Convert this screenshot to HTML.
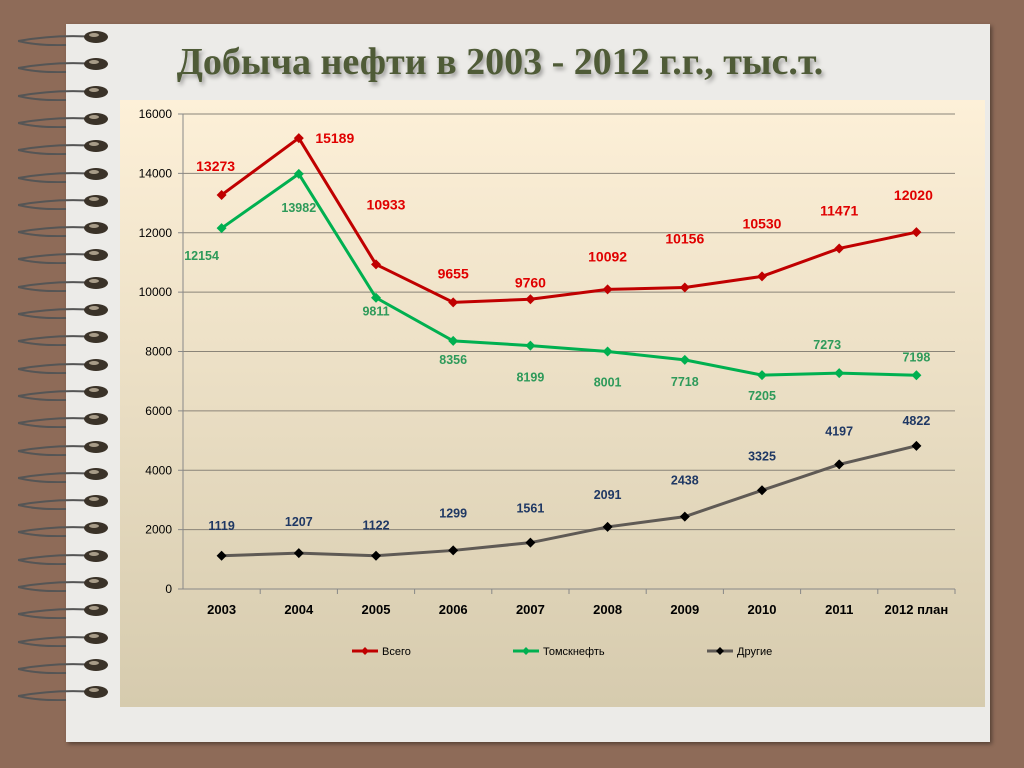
<!DOCTYPE html>
<html><head><meta charset="utf-8"><style>
body{margin:0;width:1024px;height:768px;background:#8e6b58;overflow:hidden;font-family:"Liberation Sans",sans-serif}
#paper{position:absolute;left:66px;top:24px;width:924px;height:718px;background:#ecebe8;box-shadow:2px 2px 4px rgba(0,0,0,.4)}
#title{position:absolute;left:0;top:40px;width:1000px;text-align:center;font-family:"Liberation Serif",serif;font-weight:bold;font-size:38px;color:#4f5b37;text-shadow:2px 3px 4px rgba(0,0,0,.35)}
#panel{position:absolute;left:120px;top:100px;width:865px;height:607px;background:linear-gradient(#fdf0d8,#d6cbae)}
.ring{position:absolute;left:18px;width:90px;height:18px}
</style></head><body>
<div id="paper"></div>
<div id="rings"></div>
<div id="title">Добыча нефти в 2003 - 2012 г.г., тыс.т.</div>
<div id="panel"></div>
<svg id="chart" width="1024" height="768" style="position:absolute;left:0;top:0"></svg>
<script>
const categories=["2003","2004","2005","2006","2007","2008","2009","2010","2011","2012 план"];
const totalValues=[13273,15189,10933,9655,9760,10092,10156,10530,11471,12020];
const tomskValues=[12154,13982,9811,8356,8199,8001,7718,7205,7273,7198];
const otherValues=[1119,1207,1122,1299,1561,2091,2438,3325,4197,4822];
const yTicks=[0,2000,4000,6000,8000,10000,12000,14000,16000];
const NS="http://www.w3.org/2000/svg";
const svg=document.getElementById('chart');
const rings=document.getElementById('rings');
for(let i=0;i<25;i++){const d=document.createElementNS(NS,'svg');d.setAttribute('class','ring');d.style.top=(28+i*27.3)+'px';

d.innerHTML='<path d="M78 9 Q40 6 0 13 Q20 18 48 17" fill="none" stroke="#555" stroke-width="2"/><ellipse cx="78" cy="9" rx="12" ry="6" fill="#3a3228"/><ellipse cx="76" cy="7" rx="5" ry="2" fill="#a89c88"/>';
rings.appendChild(d);}
const x0=183,x1=955,y0=589,y1=114;
const step=(x1-x0)/categories.length;
const xs=i=>x0+step*(i+0.5);
const ys=v=>y0-(v/16000)*(y0-y1);
function el(t,a,p){const e=document.createElementNS(NS,t);for(const k in a)e.setAttribute(k,a[k]);(p||svg).appendChild(e);return e;}
yTicks.forEach(v=>{
 if(v>0){const g=el('line',{x1:x0,x2:x1,y1:ys(v),y2:ys(v),stroke:'#8a8478','stroke-width':1});
 }
 const t=el('text',{x:x0-11,y:ys(v)+4,'text-anchor':'end','font-size':12,fill:'#000'});t.textContent=v;
 
 el('line',{x1:x0-5,x2:x0,y1:ys(v),y2:ys(v),stroke:'#888'});
});
el('line',{x1:x0,x2:x0,y1:y1,y2:y0,stroke:'#888'});
el('line',{x1:x0,x2:x1,y1:y0,y2:y0,stroke:'#888'});
categories.forEach((c,i)=>{
 el('line',{x1:x0+step*(i+1),x2:x0+step*(i+1),y1:y0,y2:y0+5,stroke:'#888'});
 const t=el('text',{x:xs(i),y:y0+25,'text-anchor':'middle','font-size':13,'font-weight':'bold'});t.textContent=c;
 
});
function series(vals,color,mk,lblColor,dy,fs,name){
 const p=el('polyline',{points:vals.map((v,i)=>xs(i)+','+ys(v)).join(' '),fill:'none',stroke:color,'stroke-width':3});
 
 vals.forEach((v,i)=>{const x=xs(i),y=ys(v);
  const m=el('path',{d:`M${x} ${y-5}L${x+5} ${y}L${x} ${y+5}L${x-5} ${y}Z`,fill:mk});
  
  const t=el('text',{x:x+dy[i][0],y:y+dy[i][1],'text-anchor':'middle','font-size':fs,'font-weight':'bold',fill:lblColor});t.textContent=v;
  });
}
series(totalValues,'#c00000','#c00000','#e00000',[[-6,-24],[36,5],[10,-55],[0,-24],[0,-12],[0,-28],[0,-44],[0,-48],[0,-33],[-3,-32]],14,'total');
series(tomskValues,'#00b050','#00b050','#2e9a5a',[[-20,32],[0,38],[0,18],[0,23],[0,36],[0,35],[0,26],[0,25],[-12,-24],[0,-14]],12.5,'tomskneft');
series(otherValues,'#5f5a55','#000','#1f3864',[[0,-26],[0,-27],[0,-26],[0,-33],[0,-30],[0,-28],[0,-32],[0,-30],[0,-29],[0,-21]],12.5,'other');
const leg=[["Всего",'#c00000','#c00000',352],["Томскнефть",'#00b050','#00b050',513],["Другие",'#5f5a55','#000',707]];
leg.forEach(l=>{const g=el('g',{});
 el('line',{x1:l[3],x2:l[3]+26,y1:651,y2:651,stroke:l[1],'stroke-width':3},g);
 el('path',{d:`M${l[3]+13} 647L${l[3]+17} 651L${l[3]+13} 655L${l[3]+9} 651Z`,fill:l[2]},g);
 const t=el('text',{x:l[3]+30,y:655,'font-size':11},g);t.textContent=l[0];});
</script>
</body></html>
